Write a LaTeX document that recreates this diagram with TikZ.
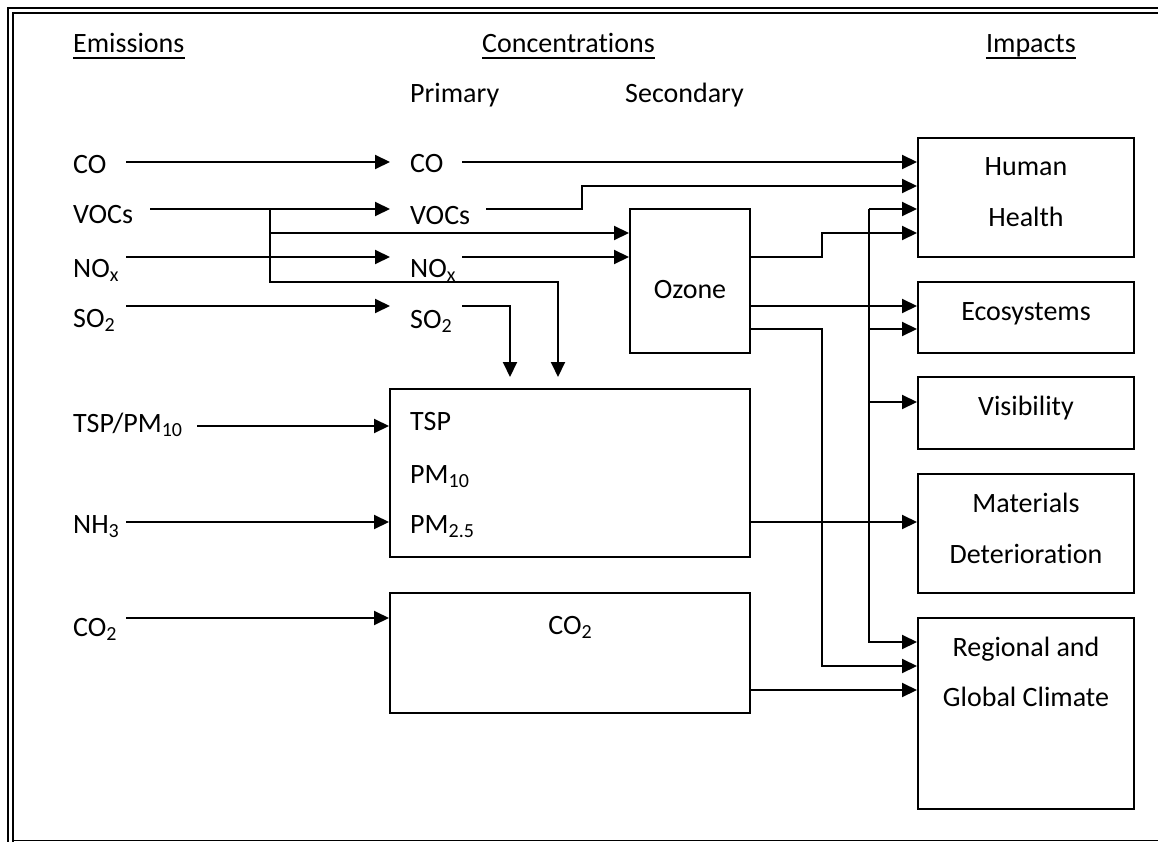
\documentclass[tikz,border=0pt]{standalone}
\usepackage{fontspec}
\setmainfont{Carlito}[Ligatures=NoCommon]
\usetikzlibrary{arrows.meta,calc}
% lowered, smaller index text (NO_x, SO_2, PM_10 ...)
\newcommand\lowtxt[1]{\raisebox{-4pt}{\fontsize{20}{20}\selectfont #1}}

\begin{document}
\begin{tikzpicture}[x=1pt,y=-1pt,
  every node/.style={font=\fontsize{28}{34}\selectfont, inner sep=0pt},
  ln/.style={line width=2pt},
  arr/.style={line width=2pt,-{Triangle[length=15pt,width=14pt]}},
  frame/.style={draw,line width=2pt,minimum width=#1},
  impact/.style={frame=216pt},
  lab/.style={anchor=west,text depth=0pt,align=left},
  hdr/.style={anchor=base west},
  txt/.style={anchor=base}]
\useasboundingbox (0,0) rectangle (1158,842);

% double frame on the left and top, single rule at the bottom
\draw[line width=2.5pt] (8,842) -- (8,8) -- (1158,8);
\draw[line width=2pt] (13,842) -- (13,13) -- (1158,13);
\draw[line width=1.5pt] (13,840.5) -- (1158,840.5);

% column headings
\node[hdr] (hEm) at (73,53) {Emissions};
\node[hdr] (hCo) at (482,53) {Concentrations};
\node[anchor=base east] (hIm) at (1076,53) {Impacts};
\foreach \h in {hEm,hCo,hIm}
  \draw[ln] ([yshift=-5.5pt]\h.base west) -- ([yshift=-5.5pt]\h.base east);
\node[hdr] (hPr) at (410,103) {Primary};
\node[hdr] (hSe) at (625,103) {Secondary};

% emissions
\node[lab,text width=53pt,text height=24pt] (eCO)  at (73,162) {CO};
\node[lab,text width=77pt,text height=30pt] (eVOC) at (73,209) {VOCs};
\node[lab,text width=53pt,text height=40pt] (eNOx) at (73,257) {NO\lowtxt{x}};
\node[lab,text width=53pt,text height=42pt] (eSO2) at (73,306) {SO\lowtxt{2}};
\node[lab,text width=124pt,text height=12pt] (eTSP) at (73,426) {TSP/PM\lowtxt{10}};
\node[lab,text width=53pt,text height=22pt] (eNH3) at (73,522) {NH\lowtxt{3}};
\node[lab,text width=53pt,text height=36pt] (eCO2) at (73,618) {CO\lowtxt{2}};

% primary concentrations
\node[lab,text width=52pt,text height=22pt] (pCO)  at (410,162) {CO};
\node[lab,text width=76pt,text height=32pt] (pVOC) at (410,209) {VOCs};
\node[lab,text width=52pt,text height=40pt] (pNOx) at (410,257) {NO\lowtxt{x}};
\node[lab,text width=52pt,text height=44pt] (pSO2) at (410,306) {SO\lowtxt{2}};

% concentration boxes
\node[frame=120pt,minimum height=144pt] (oz) at (690,281) {};
\node[txt] (ozT) at (690,298) {Ozone};
\node[frame=360pt,minimum height=168pt] (pm) at (570,473) {};
\node[hdr] (pmT1) at (410,430) {TSP};
\node[hdr] (pmT2) at (410,483) {PM\lowtxt{10}};
\node[hdr] (pmT3) at (410,533) {PM\lowtxt{2.5}};
\node[frame=360pt,minimum height=120pt] (cb) at (570,653) {};
\node[txt] (cbT) at (570,634) {CO\lowtxt{2}};

% impact boxes
\node[impact,minimum height=119pt] (hh)  at (1026,197.5) {};
\node[impact,minimum height=71pt]  (eco) at (1026,317.5) {};
\node[impact,minimum height=72pt]  (vis) at (1026,413) {};
\node[impact,minimum height=119pt] (mat) at (1026,533.5) {};
\node[impact,minimum height=191pt] (rgc) at (1026,713.5) {};
\node[txt] (hhT1)  at (1026,176) {Human};
\node[txt] (hhT2)  at (1026,227) {Health};
\node[txt] (ecoT)  at (1026,320) {Ecosystems};
\node[txt] (visT)  at (1026,415) {Visibility};
\node[txt] (matT1) at (1026,512) {Materials};
\node[txt] (matT2) at (1026,563) {Deterioration};
\node[txt] (rgcT1) at (1026,656) {Regional and};
\node[txt] (rgcT2) at (1026,706) {Global Climate};

% entry points on the boxes
\coordinate (hh1) at ([yshift=35.5pt]hh.west);
\coordinate (hh2) at ([yshift=11.5pt]hh.west);
\coordinate (hh3) at ([yshift=-11.5pt]hh.west);
\coordinate (hh4) at ([yshift=-35.5pt]hh.west);
\coordinate (ec1) at ([yshift=11.5pt]eco.west);
\coordinate (ec2) at ([yshift=-11.5pt]eco.west);
\coordinate (vi1) at ([yshift=11pt]vis.west);
\coordinate (ma1) at ([yshift=11.5pt]mat.west);
\coordinate (rg1) at ([yshift=71.5pt]rgc.west);
\coordinate (rg2) at ([yshift=47.5pt]rgc.west);
\coordinate (rg3) at ([yshift=23.5pt]rgc.west);
\coordinate (oi1) at ([yshift=48pt]oz.west);
\coordinate (oo1) at ([yshift=24pt]oz.east);
\coordinate (oo2) at ([yshift=-25pt]oz.east);
\coordinate (oo3) at ([yshift=-48pt]oz.east);
\coordinate (pmIn1) at (510,377);
\coordinate (pmIn2) at (558,377);
\coordinate (vb) at (270,209);
\coordinate (nb) at (558,282);
\coordinate (bt) at (869,209);

% emissions to primary concentrations
\draw[arr] (eCO.east)  -- ([xshift=-20pt]pCO.west);
\draw[arr] (eVOC.east) -- ([xshift=-20pt]pVOC.west);
\draw[arr] (eNOx.east) -- ([xshift=-20pt]pNOx.west);
\draw[arr] (eSO2.east) -- ([xshift=-20pt]pSO2.west);
\draw[arr] (vb) |- (oi1);
\draw[arr] (vb) |- (nb) -- (pmIn2);
\draw[arr] (pNOx.east) -- (oz.west |- pNOx.east);
\draw[arr] (pSO2.east) -| (pmIn1);
\draw[arr] (eTSP.east) -- (pm.west |- eTSP.east);
\draw[arr] (eNH3.east) -- (pm.west |- eNH3.east);
\draw[arr] (eCO2.east) -- (cb.west |- eCO2.east);

% concentrations to impacts
\draw[arr] (pCO.east) -- (hh1);
\draw[arr] (pVOC.east) -- (582,209) |- (hh2);
\draw[arr] (oo1) -- (822,257) |- (hh4);
\draw[arr] (oo2) -- (ec1);
\draw[arr] (oo3) -- (822,329) |- (rg2);
\draw[arr] (bt) -- (hh3);
\draw[arr] (bt) |- (ec2);
\draw[arr] (bt) |- (vi1);
\draw[arr] (bt) |- (rg1);
\draw[arr] (pm.east |- ma1) -- (ma1);
\draw[arr] (cb.east |- rg3) -- (rg3);
\end{tikzpicture}
\end{document}
